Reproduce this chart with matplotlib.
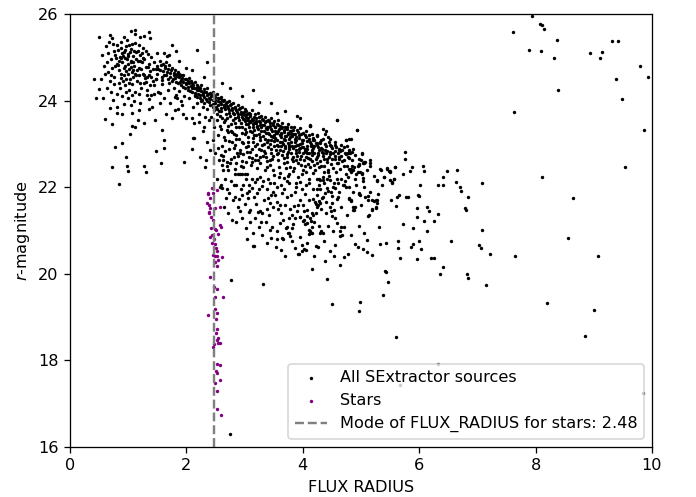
import matplotlib
matplotlib.use('Agg')
import matplotlib.pyplot as plt
import numpy as np

# ---------------- data (FLUX_RADIUS, r-magnitude) ----------------
left_cluster = [
    (0.50,25.46),(0.68,25.52),(0.72,25.45),(1.05,25.61),(1.12,25.63),(1.12,25.54),(1.20,25.48),(1.27,25.50),
    (1.35,25.59),(1.37,25.44),(0.62,25.25),(0.66,25.10),(0.70,24.95),(0.74,25.30),(0.78,25.05),(0.80,24.85),
    (0.82,25.18),(0.85,24.70),(0.86,25.00),(0.88,25.35),(0.90,24.90),(0.92,25.12),(0.93,24.60),(0.95,24.80),
    (0.96,25.25),(0.98,24.95),(1.00,25.08),(1.01,24.72),(1.03,24.50),(1.04,24.88),(1.05,25.20),(1.07,24.65),
    (1.08,25.02),(1.10,24.80),(1.11,25.32),(1.13,24.58),(1.14,24.95),(1.16,25.15),(1.18,24.75),(1.20,24.40),
    (1.21,25.05),(1.23,24.88),(1.25,24.62),(1.26,25.22),(1.28,24.95),(1.30,24.78),(1.32,24.55),(1.34,25.08),
    (1.36,24.85),(1.38,24.68),(1.40,25.00),(1.42,24.45),(1.45,24.90),(1.48,24.72),(1.50,25.10),(0.72,24.75),
    (0.76,24.55),(0.84,24.40),(0.88,24.62),(0.94,24.35),(0.97,24.50),(1.02,24.25),(1.06,24.38),(1.12,24.20),
    (1.15,24.45),(0.68,24.45),(0.58,24.80),(0.55,25.05),(0.60,24.62),(0.64,24.30),(0.70,24.20),(0.80,24.15),
    (0.90,24.10),(1.00,24.05),(1.10,23.98),(0.98,25.40),(1.02,25.28),(0.87,25.22),(0.79,24.98),(1.09,24.55),
    (1.19,24.58),(1.22,24.30),(1.27,24.40),(1.33,24.25),(1.37,24.35),(1.44,24.15),(1.47,24.50),(0.95,24.98),
    (1.05,24.92),(1.00,24.85),(0.92,24.75),(1.08,24.70),(1.03,25.12),(0.91,25.02),(0.83,24.82),(1.17,24.92),
    (1.24,25.10),(1.29,24.52),(1.35,24.60),
    (0.63,24.90),(0.67,25.35),(0.71,24.58),(0.75,25.15),(0.77,24.80),(0.81,25.28),(0.85,24.92),(0.87,24.52),
    (0.89,25.10),(0.91,24.45),(0.94,25.18),(0.96,24.68),(0.99,25.02),(1.01,24.40),(1.04,24.78),(1.06,25.30),
    (1.09,24.88),(1.11,24.62),(1.13,25.12),(1.15,24.70),(1.18,25.28),(1.20,24.92),(1.22,24.72),(1.25,24.98),
    (1.27,24.60),(1.30,25.15),(1.31,24.42),(1.34,24.78),(1.39,24.55),(1.43,24.72),(0.93,25.48),(0.88,24.98),
    (1.00,24.62),(1.10,25.15),(0.76,24.38),(0.65,24.65),(1.18,24.15),(1.07,24.12),(0.96,24.20),(0.86,24.28),
    (0.41,24.50),(0.53,24.51),(0.50,24.26),(0.44,24.05),(0.56,24.07),(0.60,23.58),(0.72,23.46),(0.78,22.92),
    (0.73,22.47),(0.84,22.08),(0.97,22.70),(0.98,22.50),(0.99,22.38),(0.89,23.01),(1.03,23.24),(1.06,23.42),
    (1.12,23.40),(1.17,23.55),(1.27,23.48),(1.27,22.50),(1.31,22.35),(1.58,23.31),(1.62,23.10),(1.62,22.91),
    (1.48,22.84),(1.56,22.55),(1.96,22.58),(2.10,22.89),(2.13,23.14),(1.99,23.60),(1.80,23.78),(1.46,23.55),
    (1.36,23.81),(1.41,23.85),(1.33,24.12),(1.40,24.13),(1.36,24.04),(1.55,24.18),(1.83,24.05),(1.80,24.09),
    (1.21,23.94),(1.07,23.71),(1.04,23.89),(0.93,23.92),(0.74,24.01),(0.80,23.85),(0.68,23.82),(0.89,23.69),
    (0.81,23.71),(1.18,23.78),
]

upper_band = [
    (1.50,24.80),(1.50,24.62),(1.55,24.92),(1.55,24.70),(1.58,24.55),(1.60,24.85),(1.60,24.68),(1.63,24.75),
    (1.65,24.60),(1.65,24.90),(1.68,24.72),(1.68,24.50),(1.70,24.82),(1.72,24.64),(1.75,24.76),(1.75,24.45),
    (1.78,24.58),(1.80,24.70),(1.80,24.52),(1.83,24.62),(1.85,24.40),(1.85,24.66),(1.88,24.55),(1.90,24.60),
    (1.90,24.35),(1.90,24.48),(1.93,24.52),(1.95,24.42),(1.95,24.58),(1.98,24.30),(2.00,24.50),(2.00,24.38),
    (2.03,24.45),(2.03,24.25),(2.05,24.52),(2.08,24.34),(2.08,24.46),(2.10,24.20),(2.10,24.40),(2.13,24.30),
    (2.15,24.42),(2.15,24.12),(2.18,24.36),(2.18,24.25),(2.20,24.32),(2.20,24.15),(2.23,24.28),(2.23,24.05),
    (2.25,24.22),(2.25,24.36),(2.28,24.18),(2.30,24.26),(2.30,24.08),(2.30,23.95),(2.33,24.20),(2.35,24.12),
    (2.35,24.28),(2.35,23.98),(2.38,24.06),(2.40,24.18),(2.40,23.90),(2.42,24.10),(2.45,24.02),(2.45,24.20),
    (2.45,23.85),(2.48,24.12),(2.50,23.95),(2.50,24.08),(2.53,24.15),(2.53,23.80),(2.55,24.00),(2.55,23.90),
    (2.58,24.05),(2.60,23.92),(2.60,23.75),(2.60,24.08),(2.63,23.98),(2.65,23.85),(2.65,24.02),(2.68,23.70),
    (2.68,23.95),(2.70,23.88),(2.73,23.98),(2.73,23.78),(2.75,23.65),(2.75,23.90),(2.78,23.82),(2.80,23.94),
    (2.80,23.72),(2.83,23.86),(2.83,23.60),(2.85,23.78),(2.88,23.90),(2.88,23.68),(2.90,23.80),(2.90,23.55),
    (2.93,23.74),(2.95,23.86),(2.95,23.62),(2.98,23.70),(3.00,23.80),(3.00,23.52),(3.00,23.66),(3.03,23.75),
    (3.05,23.60),(3.05,23.45),(3.08,23.72),(3.10,23.64),(3.10,23.50),(3.13,23.78),(3.15,23.56),(3.15,23.40),
    (3.18,23.68),(3.20,23.60),(3.20,23.48),(3.23,23.72),(3.23,23.35),(3.25,23.54),(3.28,23.64),(3.30,23.44),
    (3.30,23.58),(3.33,23.30),(3.35,23.62),(3.35,23.50),(3.38,23.40),(3.40,23.56),(3.40,23.25),(3.43,23.48),
    (3.45,23.60),(3.45,23.35),(3.48,23.44),(3.50,23.52),(3.50,23.20),(3.53,23.38),(3.55,23.46),(3.58,23.30),
    (3.58,23.55),(3.60,23.42),(3.63,23.15),(3.63,23.36),(3.65,23.48),(3.68,23.28),(3.70,23.40),(3.70,23.10),
    (3.73,23.34),(3.75,23.45),(3.75,23.22),(3.78,23.30),(3.80,23.05),(3.80,23.38),(3.83,23.24),(3.85,23.40),
    (3.88,23.15),(3.90,23.32),(3.90,22.98),(3.93,23.20),(3.95,23.36),(3.98,23.08),(4.00,23.26),(4.00,22.92),
    (4.05,23.15),(4.05,23.30),(4.08,22.88),(4.10,23.20),(4.13,23.05),(4.15,22.82),(4.15,23.24),(4.20,23.10),
    (4.20,22.95),(4.25,23.18),(4.28,22.85),(4.30,23.05),(4.35,22.78),(4.35,23.12),(4.40,22.96),(4.45,23.05),
    (4.45,22.70),(4.50,22.90),(4.55,22.98),(4.60,22.80),(4.65,22.72),(4.70,22.92),(4.80,22.68),(4.90,22.75),
    (1.52,24.74),(1.57,24.82),(1.61,24.58),(1.64,24.80),(1.67,24.66),(1.71,24.55),(1.74,24.70),(1.77,24.50),
    (1.79,24.64),(1.82,24.44),(1.84,24.56),(1.87,24.62),(1.89,24.42),(1.92,24.46),(1.94,24.32),(1.97,24.50),
    (1.99,24.40),(2.02,24.32),(2.04,24.40),(2.06,24.22),(2.09,24.28),(2.11,24.36),(2.14,24.18),(2.16,24.30),
    (2.19,24.08),(2.21,24.24),(2.24,24.14),(2.26,24.02),(2.29,24.14),(2.31,24.20),(2.34,24.04),(2.37,24.16),
    (2.39,23.96),(2.41,24.04),(2.44,24.12),(2.46,23.92),(2.49,24.02),(2.51,23.86),(2.54,24.06),(2.57,23.96),
    (2.59,23.84),(2.62,24.02),(2.64,23.90),(2.67,23.80),(2.69,23.96),(2.72,23.84),(2.74,23.72),(2.77,23.92),
    (2.79,23.78),(2.82,23.68),(2.84,23.84),(2.87,23.74),(2.89,23.62),(2.92,23.82),(2.94,23.68),(2.97,23.58),
    (2.99,23.74),(3.02,23.62),(3.04,23.68),(3.07,23.54),(3.09,23.70),(3.12,23.58),(3.14,23.46),(3.17,23.62),
    (3.19,23.52),(3.22,23.42),(3.24,23.62),(3.27,23.50),(3.29,23.38),(3.32,23.56),(3.34,23.44),(3.37,23.52),
    (3.39,23.34),(3.42,23.52),(3.44,23.42),(3.47,23.30),(3.49,23.48),(3.52,23.40),(3.54,23.26),(3.57,23.44),
    (3.59,23.34),(3.62,23.22),(3.64,23.40),(3.67,23.32),(3.69,23.18),(3.72,23.38),(3.74,23.26),(3.77,23.12),
    (3.79,23.30),(3.82,23.18),(3.84,23.32),(3.87,23.24),(3.89,23.08),(3.92,23.28),(3.94,23.14),(3.97,23.24),
    (3.99,23.02),(4.03,23.20),(4.07,23.06),(4.11,23.12),(4.14,22.96),(4.18,23.14),(4.22,23.02),(4.26,22.92),
    (4.31,23.10),(4.33,22.88),(4.38,23.00),(4.42,22.84),(4.47,22.98),(4.52,22.78),(4.57,22.92),(4.62,22.66),
    (4.67,22.86),(4.74,22.76),(4.84,22.82),(4.96,22.64),
    (3.02,23.28),(3.16,23.20),(3.26,23.16),(3.36,23.26),(3.46,23.18),(3.56,22.98),(3.66,23.00),(3.76,22.92),
    (3.86,22.96),(3.96,22.90),(4.06,22.82),(4.16,22.86),(4.26,22.74),(4.36,22.64),(4.46,22.82),(4.56,22.72),
    (4.66,22.98),(4.76,22.96),(4.86,22.88),(2.66,23.55),(2.76,23.30),(2.86,23.20),(2.96,23.40),(3.06,23.05),
    (2.56,23.75),(2.62,23.60),(2.48,23.78),(2.52,23.68),
    (1.62,25.10),(1.70,25.05),(1.88,24.92),(2.00,24.75),(2.30,24.55),(2.36,24.88),(2.18,25.17),(2.62,24.40),
    (2.75,24.30),(3.15,24.24),(3.25,23.97),(3.45,23.94),(3.56,23.72),(3.70,23.75),(3.95,23.60),(4.13,23.42),
    (4.59,23.55),(4.93,23.32),(4.40,23.30),(2.95,24.10),(3.90,23.65),(1.82,25.15),(1.76,25.28),(1.66,25.03),
    (2.10,24.70),(4.12,23.44),(4.24,23.21),(4.34,23.34),(4.38,23.24),
    (2.05,24.05),(2.12,23.85),(2.18,23.95),(2.22,23.70),(2.28,23.85),(2.32,23.62),(2.35,23.80),(2.38,23.55),
    (2.15,24.10),(2.25,24.00),(2.30,23.40),(2.10,23.60),(2.13,23.48),(2.21,23.50),(2.12,23.13),(2.28,23.30),
    (2.35,23.05),(2.41,22.85),(2.24,22.70),
    (1.45,24.35),(1.52,24.20),(1.58,24.38),(1.62,24.05),(1.68,24.25),(1.72,23.95),(1.78,24.30),(1.82,24.12),
    (1.88,24.22),(1.92,23.90),(1.96,24.10),(1.55,23.95),(1.65,23.70),(1.75,23.60),(1.85,23.80),(1.95,23.70),
    (1.48,24.50),(1.58,24.48),(1.70,24.40),(1.90,24.00),
]

middle_field = [
    (2.42,23.62),(2.47,23.40),(2.52,23.55),(2.55,23.20),(2.58,23.65),(2.60,23.35),(2.62,22.95),(2.65,23.50),
    (2.67,23.10),(2.70,23.60),(2.72,23.28),(2.74,22.88),(2.76,23.45),(2.78,23.05),(2.80,23.55),(2.82,23.22),
    (2.84,22.98),(2.86,23.38),(2.88,23.62),(2.90,23.12),(2.92,22.85),(2.94,23.48),(2.96,23.25),(2.98,23.02),
    (3.00,23.35),(3.02,22.92),(3.04,23.55),(3.06,23.15),(3.08,23.40),(3.10,22.82),(3.12,23.28),(3.14,23.05),
    (3.16,23.48),(3.18,22.95),(3.20,23.20),(3.22,23.38),(3.24,22.88),(3.26,23.10),(3.28,23.30),(3.30,22.98),
    (3.32,23.18),(3.34,22.84),(3.36,23.36),(3.38,23.05),(3.40,22.92),(3.42,23.22),(3.44,23.00),(3.46,22.80),
    (3.48,23.15),(3.50,22.95),(3.52,23.30),(3.54,22.86),(3.56,23.08),(3.58,22.78),(3.60,23.20),(3.62,22.96),
    (3.64,23.05),(3.66,22.84),(3.68,23.12),(3.70,22.90),(3.72,22.76),(3.74,23.02),(3.76,22.88),(3.78,23.15),
    (3.80,22.80),(3.82,22.95),(3.84,22.70),(3.86,23.05),(3.88,22.86),(3.90,22.72),(3.92,22.98),(3.94,22.82),
    (3.96,22.65),(3.98,22.92),(4.00,22.78),(4.02,22.62),(4.04,22.88),(4.06,22.70),(4.10,22.80),(4.12,22.64),
    (4.16,22.74),(4.18,22.90),(4.22,22.66),(4.26,22.80),(4.30,22.60),(4.34,22.72),(4.38,22.86),(4.42,22.58),
    (4.46,22.76),(4.50,22.64),(4.55,22.84),(4.58,22.55),(4.62,22.70),(4.68,22.60),(4.72,22.78),(4.76,22.50),
    (4.85,22.62),(4.95,22.50),(5.05,22.58),(5.10,22.40),
    (2.45,23.10),(2.50,22.80),(2.56,22.62),(2.63,22.72),(2.69,22.58),(2.71,23.42),(2.77,22.66),(2.83,23.48),
    (2.89,22.72),(2.95,22.60),(2.99,23.58),(3.03,23.45),(3.07,22.70),(3.11,23.52),(3.13,22.58),(3.17,23.32),
    (3.21,23.00),(3.23,22.62),(3.27,23.44),(3.31,22.72),(3.35,23.12),(3.39,22.60),(3.41,23.40),(3.45,23.10),
    (3.47,22.66),(3.51,23.06),(3.55,23.25),(3.57,22.62),(3.61,22.85),(3.63,23.26),(3.67,22.68),(3.71,23.18),
    (3.73,22.58),(3.77,22.98),(3.79,23.22),(3.83,22.60),(3.87,23.12),(3.91,22.56),(3.95,23.00),(3.97,22.52),
    (4.01,23.08),(4.03,22.50),(4.07,22.96),(4.09,22.54),(4.14,23.00),(4.20,22.52),(4.24,22.98),(4.28,22.46),
    (4.32,22.90),(4.36,22.50),(4.40,22.80),(4.44,22.40),(4.48,22.94),(4.52,22.44),(4.56,22.66),(4.64,22.42),
    (4.70,22.48),(4.78,22.70),(4.82,22.36),(4.88,22.46),(4.92,22.30),(5.00,22.62),(5.02,22.30),
    (2.52,22.20),(2.55,22.90),(2.58,23.42),(2.61,22.52),(2.64,23.16),(2.66,22.84),(2.69,23.32),(2.71,22.40),
    (2.73,23.06),(2.75,22.56),(2.79,23.28),(2.81,22.90),(2.83,22.42),(2.85,23.12),(2.87,22.80),(2.91,23.38),
    (2.93,22.50),(2.95,23.04),(2.97,22.76),(3.01,23.22),(3.03,22.58),(3.05,22.96),(3.09,23.30),(3.11,22.52),
    (3.13,22.88),(3.15,23.14),(3.19,22.74),(3.21,22.20),(3.25,23.24),(3.27,22.56),(3.29,22.86),(3.33,23.00),
    (3.35,22.40),(3.37,22.70),(3.41,23.08),(3.43,22.52),(3.45,22.88),(3.49,22.72),(3.51,22.28),(3.53,23.14),
    (3.57,22.96),(3.59,22.46),(3.61,23.04),(3.65,22.74),(3.67,22.22),(3.69,22.96),(3.71,22.44),(3.75,22.82),
    (3.77,22.30),(3.81,22.64),(3.83,22.90),(3.85,22.44),(3.89,22.78),(3.91,22.24),(3.93,22.88),(3.97,22.72),
    (3.99,22.30),(4.03,22.84),(4.05,22.36),(4.09,22.68),(4.11,22.20),(4.15,22.60),(4.19,22.80),(4.21,22.40),
    (4.25,22.70),(4.27,22.18),(4.31,22.50),(4.33,22.82),(4.37,22.34),(4.41,22.64),(4.45,22.26),(4.49,22.54),
    (4.53,22.10),(4.57,22.36),(4.61,22.56),(4.66,22.20),(4.71,22.62),(4.74,22.30),(4.84,22.50),(4.90,22.18),
    (4.18,23.09),(4.24,23.01),(4.17,22.94),(4.30,23.01),(4.43,23.15),(4.47,23.11),(4.56,23.04),(4.62,22.87),
    (4.64,22.84),(4.75,23.09),(4.79,23.11),(4.82,23.12),(4.80,22.82),(4.78,22.78),(5.01,22.78),(5.04,22.55),
    (4.97,22.51),(5.15,22.63),(5.07,22.58),(5.15,22.49),(5.33,22.41),(5.45,22.44),(5.48,22.37),(5.50,22.35),
    (5.58,22.47),(5.28,22.15),(5.40,22.24),(5.49,22.17),(5.56,22.20),(5.53,22.09),(4.81,22.40),(4.78,22.24),
    (4.98,22.36),(5.04,22.21),(5.04,22.15),(5.02,22.32),(4.87,22.40),(4.75,22.00),(4.60,22.10),(4.69,22.04),
    (4.52,22.00),(4.47,22.17),(4.35,22.24),(4.34,22.17),(4.41,22.20),(4.30,22.17),(4.24,21.95),(4.30,21.95),
    (4.41,21.98),(4.44,21.92),(4.48,21.89),(4.55,21.97),(4.24,21.83),(4.35,21.78),(4.30,21.63),(4.24,21.55),
    (4.79,21.72),(4.83,21.69),(4.98,21.83),(5.07,21.78),(5.12,21.70),(5.19,21.70),(5.27,21.63),(5.25,21.70),
    (5.25,21.52),(4.87,21.55),(4.88,21.47),(5.19,21.47),
    (2.59,22.75),(2.63,22.63),(2.81,22.70),(2.92,22.78),(3.04,22.82),(3.12,22.67),(3.18,22.63),(3.26,22.70),
    (3.35,22.78),(3.44,22.63),(3.55,22.77),(3.67,22.55),(3.72,22.70),(3.78,22.47),(3.89,22.63),(4.07,22.78),
    (4.12,22.47),(4.24,22.55),(2.86,22.55),(2.63,22.40),(2.70,22.48),(2.98,22.46),(3.21,22.44),(3.38,22.47),
    (3.49,22.40),(3.61,22.32),(3.84,22.37),(4.01,22.40),(4.18,22.32),(2.34,22.63),(2.32,22.47),
]

lower_field = [
    (2.84,22.30),(2.88,22.30),(2.92,22.30),(2.96,22.30),(3.00,22.31),(3.04,22.30),
    (2.76,22.15),(2.86,22.06),(2.98,22.06),(3.07,22.06),(3.18,22.12),(3.26,22.24),(3.41,22.18),(3.44,22.09),
    (3.59,22.24),(3.72,22.15),(3.76,22.09),(3.88,22.09),(3.95,22.12),(4.10,22.09),(4.24,22.20),(2.84,21.78),
    (2.90,21.72),(2.80,21.70),(2.96,21.81),(3.04,21.87),(3.07,21.91),(3.13,21.97),(3.21,21.86),(3.30,22.03),
    (3.38,21.95),(3.46,21.81),(3.49,21.89),(3.56,22.01),(3.64,21.87),(3.72,21.78),(3.55,21.66),(3.61,21.60),
    (3.44,21.63),(3.48,21.55),(3.38,21.50),(3.26,21.44),(3.30,21.41),(3.09,21.47),(3.07,21.43),(3.23,21.43),
    (3.95,21.70),(4.00,21.60),(3.78,21.50),(3.85,21.57),(4.07,21.47),(4.15,21.40),(4.21,21.66),(4.26,21.60),
    (3.95,21.32),(4.01,21.21),(4.08,21.17),(4.11,21.01),(4.12,20.94),(3.72,21.09),(3.56,20.98),(3.46,20.83),
    (3.55,20.80),(3.64,20.83),(3.77,20.95),(3.81,20.76),(3.99,20.66),(4.02,20.58),(4.05,20.55),(3.91,20.46),
    (4.26,20.63),(4.16,20.94),(3.25,21.09),(3.16,20.64),(3.54,20.61),(3.47,21.07),(3.15,20.64),(2.76,19.86),
    (3.31,19.76),(2.75,16.29),(2.70,21.95),(2.66,22.20),(2.60,22.05),(2.58,22.00),(2.62,21.97),
    (2.74,21.86),(2.94,21.96),(3.02,22.18),(3.16,21.78),(3.34,21.70),(3.52,21.82),(3.68,21.96),(3.86,21.90),
    (4.04,21.84),(4.18,21.72),(4.38,21.86),(2.88,21.55),(3.00,21.62),(3.20,21.62),(3.42,21.36),(3.62,21.40),
    (3.90,21.46),(4.40,21.40),(2.68,21.74),(2.72,21.40),(2.96,21.30),(3.10,21.20),(3.36,21.20),(3.60,21.18),
    (3.84,21.14),(4.20,21.20),(4.44,21.10),(3.30,20.90),(3.86,20.60),(4.36,20.76),(4.56,20.66),
    (2.65,21.55),(2.78,21.25),(2.82,22.05),(2.92,21.45),(3.02,21.05),(3.06,21.75),(3.12,22.20),(3.18,21.30),
    (3.24,21.95),(3.28,21.20),(3.32,22.15),(3.40,21.75),(3.44,21.02),(3.50,22.10),(3.58,21.50),(3.62,22.05),
    (3.66,21.25),(3.70,21.60),(3.74,22.25),(3.80,21.82),(3.82,21.35),(3.88,22.00),(3.92,21.60),(3.98,21.95),
    (4.02,21.45),(4.06,22.05),(4.10,21.70),(4.14,21.22),(4.18,21.95),(4.22,21.40),(4.28,22.05),(4.32,21.50),
    (4.36,22.10),(4.40,21.65),(4.44,22.35),(4.50,21.80),(4.54,21.48),(4.58,22.20),(4.62,21.90),(4.66,21.55),
    (4.72,22.15),(4.76,21.35),(4.86,21.90),(4.92,22.05),(5.00,21.60),(5.06,22.00),(5.16,21.90),(5.22,22.25),
    (5.30,21.85),(5.36,22.05),(3.14,20.95),(3.38,20.70),(3.62,20.55),(3.70,20.40),(4.20,20.40),(4.38,20.30),
    (4.54,20.40),(4.82,20.90),(4.96,21.10),(5.06,20.95),(3.96,20.86),(4.28,21.10),(4.52,20.98),(2.86,21.20),
    (3.04,20.80),
    (4.59,21.18),(4.65,21.09),(4.70,21.07),(4.64,21.00),(4.64,20.87),(4.67,20.89),(4.32,20.98),(4.30,20.94),
    (4.34,20.95),(4.12,21.00),(4.11,20.92),(4.16,21.09),(4.12,21.30),(4.17,21.36),(4.07,21.33),(4.04,21.15),
    (4.02,21.24),(3.96,21.32),(3.76,21.30),(3.86,21.29),(3.71,21.05),(3.81,21.06),(3.66,20.81),(3.75,20.94),
    (3.78,20.88),(4.60,21.78),(4.58,21.73),(4.50,21.63),(4.33,21.74),(4.28,21.67),(4.23,21.61),(4.46,21.55),
    (4.48,21.44),(4.51,21.33),(4.55,21.29),(4.79,22.01),(4.70,22.04),(4.97,21.86),(4.80,21.75),(4.83,21.70),
    (4.89,21.55),(4.87,21.47),(5.12,21.33),(5.14,21.36),(5.31,21.09),(5.10,20.77),(5.33,20.69),(5.43,20.72),
    (4.90,20.69),(4.95,20.63),(5.03,20.57),(5.11,20.50),(5.19,20.43),(3.93,20.45),(3.98,20.53),(4.07,20.70),
    (4.23,20.65),(4.47,20.53),(4.70,20.39),(4.78,20.45),(4.64,20.20),(4.42,19.89),(4.16,20.10),(5.42,20.07),
    (5.43,20.04),(4.50,19.30),(4.98,19.36),(4.96,19.15),(5.37,19.50),(5.46,19.82),(5.60,18.54),
]

outer_tail = [
    (4.59,23.55),(4.93,23.32),(4.13,23.42),(5.01,22.77),(5.15,22.55),(5.06,22.57),(4.97,22.54),(4.79,22.87),
    (4.78,22.80),(4.81,22.78),(4.74,23.09),(4.62,22.88),(4.64,22.85),(4.79,22.41),(4.83,22.41),(4.94,22.35),
    (4.97,21.84),(5.76,22.82),(5.75,22.64),(5.73,22.30),(5.58,22.46),(5.50,22.37),(5.45,22.43),(5.35,22.40),
    (5.40,22.24),(5.57,22.20),(5.53,22.11),(5.28,22.16),(6.06,22.49),(6.09,22.37),(6.01,22.06),(5.99,21.80),
    (5.88,22.46),(5.84,22.38),(6.48,22.37),(6.41,22.23),(6.33,22.04),(6.41,22.04),(6.63,22.13),(6.65,22.39),
    (6.70,22.00),(6.72,21.91),(6.84,21.77),(6.78,21.53),(6.80,21.47),(6.32,21.37),(6.13,21.55),(6.17,21.44),
    (5.97,21.53),(5.97,21.32),(6.09,21.23),(6.25,21.22),(6.13,21.00),(5.89,21.05),(5.73,21.16),(5.66,21.81),
    (5.62,21.77),(5.77,21.77),(5.81,21.77),(5.98,21.82),(5.60,21.57),(5.52,21.70),(5.26,21.54),(5.19,21.49),
    (5.23,21.69),(5.27,21.70),(5.12,21.80),(5.63,20.76),(5.63,20.59),(5.90,20.68),(5.86,20.62),(6.00,20.75),
    (6.03,20.57),(5.67,20.36),(5.97,20.35),(6.20,20.37),(6.25,20.37),(6.55,20.76),(7.03,20.67),(7.07,20.59),
    (7.22,20.45),(7.65,20.41),(6.41,20.16),(6.35,20.00),(6.82,19.99),(6.84,19.90),(7.08,22.10),(7.08,21.02),
    (7.15,19.73),(7.61,25.58),(7.63,23.74),(7.93,25.96),(8.08,25.78),(8.11,25.74),(8.14,25.66),(7.89,25.18),
    (8.09,25.15),(8.37,25.39),(8.32,24.98),(8.38,24.24),(8.93,25.10),(9.10,24.98),(9.14,25.13),(9.32,25.37),
    (9.41,25.37),(9.39,24.51),(9.49,24.04),(9.79,24.79),(9.93,24.54),(9.86,23.32),(9.54,22.47),(8.11,22.24),
    (8.64,21.76),(8.56,20.82),(9.08,20.40),(8.20,19.32),(9.01,19.16),(8.85,18.56),(6.32,17.92),(5.67,17.43),
    (9.85,17.25),
]

star_points = [
    (2.44,21.98),(2.45,21.86),(2.37,21.84),(2.36,21.64),(2.38,21.58),(2.41,21.52),(2.39,21.43),(2.38,21.40),
    (2.43,21.32),(2.58,21.54),(2.49,21.52),(2.57,21.12),(2.59,21.07),(2.42,21.06),(2.49,21.03),(2.51,21.01),
    (2.44,20.90),(2.41,20.86),(2.55,20.92),(2.44,20.70),(2.49,20.69),(2.51,20.60),(2.53,20.53),(2.46,20.43),
    (2.52,20.40),(2.49,20.41),(2.61,20.38),(2.54,20.33),(2.50,20.27),(2.52,20.18),(2.41,19.93),(2.47,19.70),
    (2.53,19.66),(2.63,19.46),(2.50,19.47),(2.37,19.04),(2.49,19.19),(2.52,19.09),(2.51,18.96),(2.53,18.73),
    (2.55,18.52),(2.52,18.47),(2.51,18.64),(2.47,18.38),(2.45,18.32),(2.54,18.41),(2.58,18.40),(2.52,17.92),
    (2.57,17.90),(2.51,17.76),(2.52,17.72),(2.57,17.55),(2.50,17.47),(2.53,17.30),(2.52,16.87),(2.60,16.73),
    (2.37,21.86),(2.45,21.97),(2.53,21.94),(2.40,21.75),(2.46,21.25),(2.48,20.80),
]

mode_radius = 2.48

galaxies = np.array(left_cluster + upper_band + middle_field + lower_field + outer_tail)
stars = np.array(star_points)

# ---------------- figure ----------------
DPI = 116
fig = plt.figure(figsize=(696 / DPI, 497 / DPI), dpi=DPI)
ax = fig.add_axes([70 / 696, 50 / 497, 582 / 696, 433 / 497])

ax.scatter(galaxies[:, 0], galaxies[:, 1], s=4.5, c='black', linewidths=0,
           label='All SExtractor sources')
ax.scatter(stars[:, 0], stars[:, 1], s=4.5, c='purple', linewidths=0, label='Stars')
ax.axvline(mode_radius, color='gray', ls='--',
           label=f'Mode of FLUX_RADIUS for stars: {mode_radius:.2f}')

ax.set_xlim(0, 10)
ax.set_ylim(16, 26)
ax.set_xlabel('FLUX RADIUS')
ax.set_ylabel('$r$-magnitude')
ax.legend(loc='lower right')

fig.savefig('out.png', dpi=DPI)
